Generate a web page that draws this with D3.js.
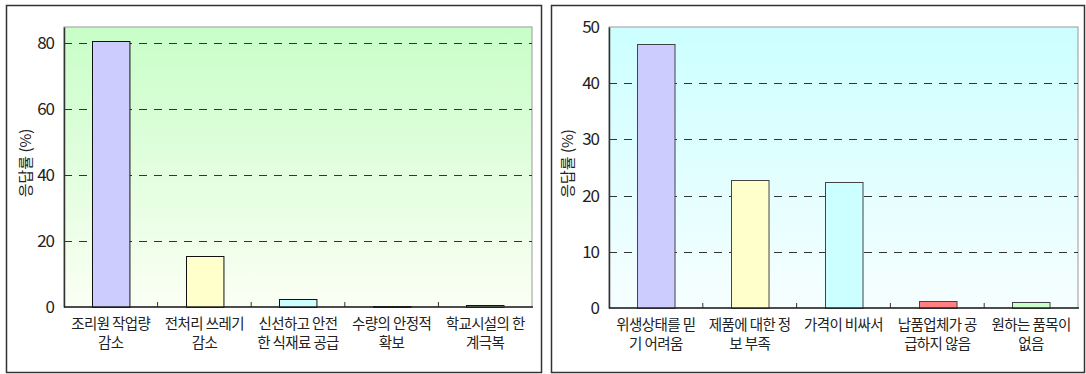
<!DOCTYPE html>
<meta charset="utf-8">
<style>
  body { margin: 0; background: #fff; }
  svg text { font-family: "Noto Sans CJK KR", "Noto Sans", sans-serif; fill: #222; }
  .tick-label { font-size: 17px; letter-spacing: -1px; }
  .cat-label { font-size: 14.5px; letter-spacing: -0.6px; }
  .y-title { font-size: 15px; }
</style>
<svg width="1086" height="374"></svg>
<script src="https://cdn.jsdelivr.net/npm/d3@7"></script>
<script>
  // left chart: 기대효과
  var leftCats = [
    ["조리원 작업량", "감소"],
    ["전처리 쓰레기", "감소"],
    ["신선하고 안전", "한 식재료 공급"],
    ["수량의 안정적", "확보"],
    ["학교시설의 한", "계극복"]
  ];
  var leftValues = [80.6, 15.5, 2.4, 0.3, 0.6];
  var leftColors = ["#ccccff", "#ffffcc", "#ccffff", "#222222", "#ccffcc"];
  var leftTicks = [0, 20, 40, 60, 80];

  // right chart: 문제점
  var rightCats = [
    ["위생상태를 믿", "기 어려움"],
    ["제품에 대한 정", "보 부족"],
    ["가격이 비싸서"],
    ["납품업체가 공", "급하지 않음"],
    ["원하는 품목이", "없음"]
  ];
  var rightValues = [47.0, 22.8, 22.4, 1.2, 1.0];
  var rightColors = ["#ccccff", "#ffffcc", "#ccffff", "#ff8080", "#ccffcc"];
  var rightTicks = [0, 10, 20, 30, 40, 50];

  var yTitle = "응답률  (%)";

  var svg = d3.select("svg");
  var defs = svg.append("defs");

  function gradient(id, top, bottom) {
    var g = defs.append("linearGradient")
      .attr("id", id)
      .attr("x1", 0).attr("y1", 0).attr("x2", 0).attr("y2", 1);
    g.append("stop").attr("offset", "0%").attr("stop-color", top);
    g.append("stop").attr("offset", "100%").attr("stop-color", bottom);
  }
  gradient("bg-green", "#c8fec8", "#fbfff4");
  gradient("bg-cyan", "#ccffff", "#f6feff");

  function drawPanel(p) {
    // outer frame
    svg.append("rect")
      .attr("x", p.box[0] + 0.5).attr("y", p.box[1] + 0.5)
      .attr("width", p.box[2]).attr("height", p.box[3])
      .attr("fill", "#fff").attr("stroke", "#333").attr("stroke-width", 1.5);

    var x = d3.scaleBand()
      .domain(d3.range(p.values.length))
      .range([p.left, p.right])
      .paddingInner(0.6).paddingOuter(0.3);
    var y = d3.scaleLinear().domain([0, p.max]).range([p.bottom, p.top]);

    var g = svg.append("g");

    // plot area
    g.append("rect")
      .attr("x", p.left).attr("y", p.top)
      .attr("width", p.right - p.left).attr("height", p.bottom - p.top)
      .attr("fill", "url(#" + p.bg + ")")
      .attr("stroke", "#999").attr("stroke-width", 1);

    // dashed grid
    g.selectAll(".grid")
      .data(p.ticks.filter(function (d) { return d > 0 && d < p.max; }))
      .enter().append("line")
      .attr("x1", p.left).attr("x2", p.right)
      .attr("y1", function (d) { return Math.round(y(d)) + 0.5; })
      .attr("y2", function (d) { return Math.round(y(d)) + 0.5; })
      .attr("stroke", "#333").attr("stroke-dasharray", "8,7");

    // bars
    g.selectAll(".bar")
      .data(p.values)
      .enter().append("rect")
      .attr("x", function (d, i) { return Math.round(x(i)) + 0.5; })
      .attr("y", function (d) { return Math.round(y(d)) + 0.5; })
      .attr("width", x.bandwidth())
      .attr("height", function (d) { return Math.max(0, Math.round(p.bottom - y(d))); })
      .attr("fill", function (d, i) { return p.colors[i]; })
      .attr("stroke", p.barStroke).attr("stroke-width", 1);

    // y axis
    var yAxis = d3.axisLeft(y).tickValues(p.ticks).tickSize(0).tickPadding(10);
    var ya = g.append("g").attr("transform", "translate(" + p.left + ",0)").call(yAxis);
    ya.select(".domain").attr("stroke", "#333").attr("stroke-width", 1.5);
    ya.selectAll("text").attr("class", "tick-label").attr("fill", "#222");

    // x axis: ticks between categories, pointing inward
    var step = (p.right - p.left) / p.values.length;
    g.selectAll(".xtick")
      .data(d3.range(1, p.values.length))
      .enter().append("line")
      .attr("x1", function (d) { return p.left + d * step; })
      .attr("x2", function (d) { return p.left + d * step; })
      .attr("y1", p.bottom).attr("y2", p.bottom - 5)
      .attr("stroke", "#333");
    g.append("line")
      .attr("x1", p.left).attr("x2", p.right + 1)
      .attr("y1", p.bottom).attr("y2", p.bottom)
      .attr("stroke", "#222").attr("stroke-width", 1.5);

    // category labels
    var labels = g.selectAll(".cat")
      .data(p.cats)
      .enter().append("text")
      .attr("class", "cat-label")
      .attr("text-anchor", "middle")
      .attr("transform", function (d, i) {
        return "translate(" + (x(i) + x.bandwidth() / 2) + "," + (p.bottom + 22) + ")";
      });
    labels.selectAll("tspan")
      .data(function (d) { return d; })
      .enter().append("tspan")
      .attr("x", 0)
      .attr("dy", function (d, i) { return i ? 19 : 0; })
      .text(function (d) { return d; });

    // y title
    g.append("text")
      .attr("class", "y-title")
      .attr("text-anchor", "middle")
      .attr("transform", "translate(" + p.titleX + "," + ((p.top + p.bottom) / 2 - 4) + ") rotate(-90)")
      .text(yTitle);
  }

  drawPanel({
    box: [6, 5, 535, 367],
    left: 64, right: 532, top: 27, bottom: 307, max: 84.8,
    values: leftValues, colors: leftColors, cats: leftCats, ticks: leftTicks,
    bg: "bg-green", barStroke: "#111", titleX: 31
  });

  drawPanel({
    box: [551, 5, 533, 367],
    left: 609, right: 1078, top: 27, bottom: 308, max: 50,
    values: rightValues, colors: rightColors, cats: rightCats, ticks: rightTicks,
    bg: "bg-cyan", barStroke: "#444", titleX: 573
  });
</script>
